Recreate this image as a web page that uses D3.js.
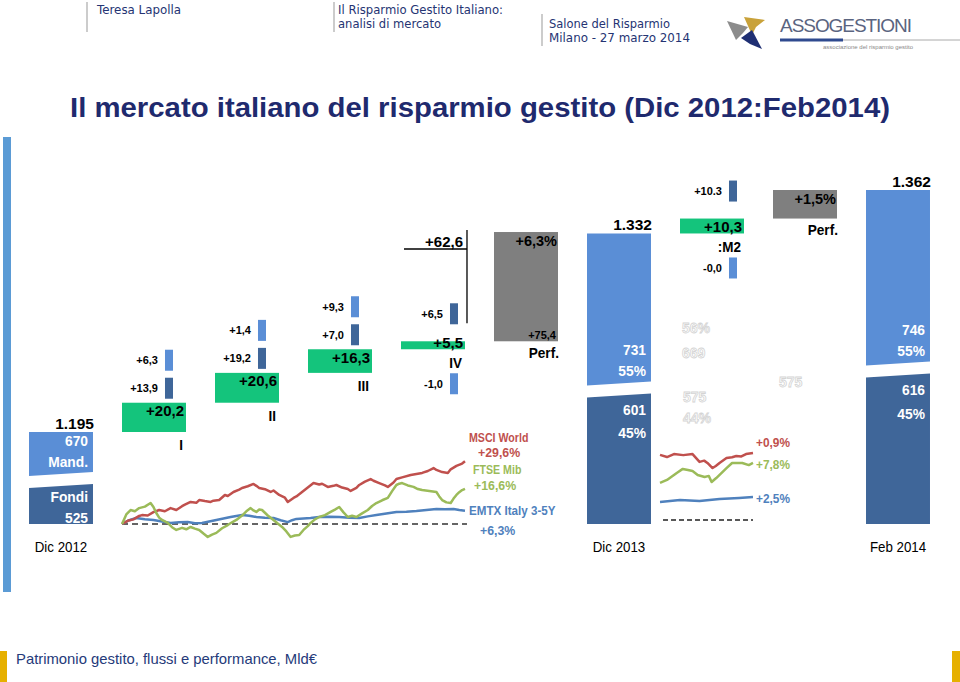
<!DOCTYPE html>
<html><head><meta charset="utf-8">
<script src="https://cdn.jsdelivr.net/npm/d3@7"></script>
<style>body{margin:0;background:#fff} svg{display:block}</style>
</head><body>
<svg id="c" width="960" height="682"></svg>
<script>
// ---------- DATA ----------
const categories = ["Dic 2012","I","II","III","IV","Perf.","Dic 2013",":M2","Perf. 2014","Feb 2014"];
const totalCats = ["Dic 2012","Dic 2013","Feb 2014"];
const totalValues = [1195,1332,1362];
const totalLabels = ["1.195","1.332","1.362"];
const mandValues = [670,731,746];
const fondiValues = [525,601,616];
const mandText = [["670","Mand."],["731","55%"],["746","55%"]];
const fondiText = [["Fondi","525"],["601","45%"],["616","45%"]];
const flowCats = ["I","II","III","IV",":M2"];
const flowValues = [20.2,20.6,16.3,5.5,10.3];
const flowLabels = ["+20,2","+20,6","+16,3","+5,5","+10,3"];
const fondiFlows = [13.9,19.2,7.0,6.5,10.3];
const fondiFlowLabels = ["+13,9","+19,2","+7,0","+6,5","+10.3"];
const mandFlows = [6.3,1.4,9.3,-1.0,-0.0];
const mandFlowLabels = ["+6,3","+1,4","+9,3","-1,0","-0,0"];
const perfCats = ["Perf.","Perf. 2014"];
const perfValues = [75.4,19.7];
const perfPctLabels = ["+6,3%","+1,5%"];
const perfValLabels = ["+75,4",""];
const flows2013Label = "+62,6";
const xLabels = ["Dic 2012","Dic 2013","Feb 2014"];

// index performance (month, cumulative %)
const msci2013 = [[0,0],[0.2,1.5],[0.4,2.2],[0.6,3.8],[0.7,4.2],[0.9,4.0],[1.1,5.6],[1.3,6.6],[1.5,6.0],[1.7,7.5],[1.9,6.6],[2.1,8.4],[2.2,9.1],[2.4,10.4],[2.6,10.0],[2.7,11.3],[2.9,10.8],[3.1,10.4],[3.2,11.0],[3.4,11.3],[3.6,13.7],[3.7,13.2],[3.9,15.1],[4.1,16.2],[4.2,17.0],[4.4,17.8],[4.6,18.9],[4.7,18.0],[4.8,17.0],[5.0,16.4],[5.2,15.1],[5.3,15.8],[5.5,13.7],[5.7,12.4],[5.8,10.4],[6.0,12.3],[6.1,13.0],[6.3,15.1],[6.5,17.2],[6.7,19.3],[6.9,18.6],[7.0,19.0],[7.2,17.5],[7.4,18.0],[7.5,18.4],[7.7,17.2],[7.9,16.5],[8.0,15.6],[8.2,17.0],[8.3,18.4],[8.5,20.0],[8.7,21.2],[8.8,20.4],[9.0,19.3],[9.2,18.2],[9.3,17.5],[9.5,19.6],[9.6,21.2],[9.8,22.0],[10.1,23.1],[10.3,23.6],[10.5,24.1],[10.7,25.0],[10.9,26.4],[11.0,25.5],[11.2,24.5],[11.4,24.1],[11.5,25.8],[11.7,27.4],[11.9,28.5],[12.0,29.6]];
const ftse2013 = [[0,0],[0.15,4.5],[0.3,6.6],[0.45,6.0],[0.6,7.5],[0.8,8.2],[1.0,9.9],[1.1,8.0],[1.2,5.2],[1.3,3.0],[1.4,1.9],[1.6,0.5],[1.75,-1.5],[1.9,-2.8],[2.1,-1.8],[2.25,-2.5],[2.4,-1.4],[2.55,-2.2],[2.7,-2.8],[2.85,-4.5],[3.0,-6.1],[3.15,-5.0],[3.3,-4.2],[3.5,-2.0],[3.7,-0.5],[3.85,0.8],[4.0,1.9],[4.2,4.0],[4.35,6.0],[4.5,7.5],[4.6,6.4],[4.7,5.7],[4.8,6.8],[4.9,6.6],[5.1,4.0],[5.3,1.9],[5.45,0.2],[5.6,-1.4],[5.75,-3.5],[5.9,-6.1],[6.05,-5.4],[6.2,-5.2],[6.35,-2.8],[6.5,-1.0],[6.6,0.5],[6.75,2.2],[6.9,3.3],[7.1,4.2],[7.3,5.7],[7.45,6.8],[7.6,8.0],[7.75,5.5],[7.9,3.3],[8.05,3.9],[8.2,3.3],[8.4,5.0],[8.6,6.6],[8.75,8.5],[8.9,9.9],[9.1,11.2],[9.3,12.3],[9.45,15.5],[9.6,18.4],[9.7,19.0],[9.8,19.3],[10.0,18.2],[10.2,17.5],[10.35,16.5],[10.5,16.0],[10.75,15.6],[11.0,15.1],[11.1,13.0],[11.2,11.3],[11.35,10.2],[11.5,9.9],[11.6,12.0],[11.7,13.7],[11.8,15.0],[11.9,16.0],[12.0,16.6]];
const emtx2013 = [[0,0],[0.25,1.8],[0.5,2.8],[0.8,2.2],[1.1,1.9],[1.4,1.2],[1.7,0.5],[2.0,0.8],[2.3,0.9],[2.55,0.4],[2.8,0.5],[3.05,1.2],[3.3,1.9],[3.55,2.6],[3.8,3.3],[4.0,3.8],[4.2,4.2],[4.45,3.9],[4.7,3.3],[5.0,3.0],[5.3,2.8],[5.55,1.8],[5.8,0.9],[5.95,1.8],[6.1,2.4],[6.35,2.6],[6.6,2.8],[6.9,3.3],[7.25,3.4],[7.6,3.3],[7.95,3.0],[8.3,2.8],[8.6,3.6],[8.9,4.2],[9.25,5.0],[9.6,5.7],[9.95,5.8],[10.3,6.1],[10.65,6.6],[11.0,7.1],[11.3,7.0],[11.6,7.1],[11.8,6.6],[12.0,6.3]];
const msci2014 = [[0,30.7],[0.15,29.7],[0.3,31.1],[0.5,30.6],[0.7,31.1],[0.85,27.4],[0.95,28.0],[1.02,26.9],[1.13,24.5],[1.2,25.5],[1.28,26.9],[1.43,29.2],[1.55,29.6],[1.64,30.2],[1.75,30.0],[1.85,31.1],[2.0,31.6]];
const ftse2014 = [[0,17.5],[0.15,18.9],[0.36,22.2],[0.49,24.1],[0.6,23.6],[0.7,23.1],[0.81,21.2],[0.96,20.3],[1.05,20.8],[1.11,17.9],[1.21,19.8],[1.43,24.5],[1.55,26.9],[1.77,26.9],[1.91,25.9],[2.0,26.9]];
const emtx2014 = [[0,8.5],[0.43,9.4],[0.85,9.0],[1.28,9.9],[1.7,10.4],[2.0,10.8]];
const seriesNames = ["MSCI World","FTSE Mib","EMTX Italy 3-5Y"];
const seriesPerf2013 = ["+29,6%","+16,6%","+6,3%"];
const seriesPerf2014 = ["+0,9%","+7,8%","+2,5%"];
const ghostLabels = ["56%","669","575","44%","575"];

// ---------- STYLE ----------
const F = "'Liberation Sans',Arial,sans-serif";
const C = {mand:"#5a8ed6", fondi:"#3f6699", green:"#14c47c", gray:"#7f7f7f",
  red:"#c0504d", lgreen:"#9bbb59", blue:"#4f81bd", navy:"#1f2a6e"};

const svg = d3.select("#c");

// ---------- HEADER ----------
const hdr = svg.append("g").attr("font-family","'DejaVu Sans',Verdana,sans-serif").attr("fill","#253473");
[[87,2,32],[334,2,32],[542,14,46]].forEach(([x,a,b]) => hdr.append("line").attr("x1",x).attr("x2",x).attr("y1",a).attr("y2",b).attr("stroke","#bbb").attr("stroke-width",1.5));
const ht = (t,x,y,w) => hdr.append("text").attr("x",x).attr("y",y).attr("font-size",12.5).attr("textLength",w).attr("lengthAdjust","spacingAndGlyphs").text(t);
ht("Teresa Lapolla",97,14,84);
ht("Il Risparmio Gestito Italiano:",338,14,165);
ht("analisi di mercato",338,28,103);
ht("Salone del Risparmio",549,28,121);
ht("Milano - 27 marzo 2014",549,42,141);
// logo
const lg = svg.append("g");
lg.append("path").attr("d","M727,21 L748,27 L743,33 L736,40 Z").attr("fill","#8c8c8c");
lg.append("path").attr("d","M744,17 L765,20 L756,27 L752,35 Z").attr("fill","#c9a23a");
lg.append("path").attr("d","M741,38 L752,30 L762,49 L750,44 Z").attr("fill","#1f2f73");
lg.append("text").attr("x",780).attr("y",32).attr("font-family","'Liberation Sans',Arial,sans-serif").attr("font-size",19).attr("fill","#5a6480").attr("textLength",132).attr("lengthAdjust","spacing").text("ASSOGESTIONI");
lg.append("line").attr("x1",780).attr("x2",843).attr("y1",40).attr("y2",40).attr("stroke","#2f4a8f").attr("stroke-width",3);
lg.append("line").attr("x1",843).attr("x2",960).attr("y1",40).attr("y2",40).attr("stroke","#aaa").attr("stroke-width",1);
lg.append("text").attr("x",823).attr("y",49).attr("font-family","'Liberation Sans',Arial,sans-serif").attr("font-size",6).attr("fill","#888").text("associazione del risparmio gestito");

// title
svg.append("text").attr("x",70).attr("y",117).attr("font-family","'Liberation Sans',Arial,sans-serif")
  .attr("font-weight","bold").attr("font-size",28).attr("fill",C.navy)
  .attr("textLength",820).attr("lengthAdjust","spacingAndGlyphs")
  .text("Il mercato italiano del risparmio gestito (Dic 2012:Feb2014)");

// side & footer decorations
svg.append("rect").attr("x",3).attr("y",137).attr("width",8).attr("height",455).attr("fill","#5b9bd5");
svg.append("rect").attr("x",0).attr("y",651).attr("width",7).attr("height",31).attr("fill","#e6b000");
svg.append("rect").attr("x",952).attr("y",651).attr("width",8).attr("height",31).attr("fill","#e6b000");
svg.append("text").attr("x",16).attr("y",664).attr("font-family","'Liberation Sans',Arial,sans-serif")
  .attr("font-size",15).attr("fill","#253a7a").attr("textLength",301).attr("lengthAdjust","spacingAndGlyphs")
  .text("Patrimonio gestito, flussi e performance, Mld€");

// ---------- SCALES ----------
const x = d3.scaleBand().domain(categories).range([14.5,944.5]).paddingInner(0.312).paddingOuter(0.156);
const y = d3.scaleLinear().domain([1195,1362]).range([432,190]);
const base = 524;
const bw = x.bandwidth();
const g = svg.append("g").attr("font-family",F).attr("font-weight","bold");
const txt = (t,xx,yy,size,anchor,fill,sx) => g.append("text")
  .attr("transform",`translate(${xx},${yy}) scale(${sx||1},1)`).attr("font-size",size)
  .attr("text-anchor",anchor||"end").attr("fill",fill||"#000").text(t);

// ---------- WATERFALL ----------
let run = 0;
categories.forEach(cat => {
  const x0 = x(cat), x1 = x0 + bw;
  const ti = totalCats.indexOf(cat), fi = flowCats.indexOf(cat), pi = perfCats.indexOf(cat);
  if (ti >= 0) {
    run = totalValues[ti];
    const top = y(run), h = base - top;
    const share = fondiValues[ti] / (fondiValues[ti] + mandValues[ti]);
    const s = base - share * h - 3.5;
    g.append("path").attr("d",`M${x0},${top}L${x1},${top}L${x1},${s-8}L${x0},${s-4}Z`).attr("fill",C.mand);
    g.append("path").attr("d",`M${x0},${s+8}L${x1},${s+4}L${x1},${base}L${x0},${base}Z`).attr("fill",C.fondi);
    txt(totalLabels[ti], x1+1, top-3, 15.5);
    txt(mandText[ti][0], x1-5, s-34, 15, "end", "#fff", 0.92);
    txt(mandText[ti][1], x1-5, s-13, 15, "end", "#fff", 0.92);
    const ft = s + 6, fh = base - ft;
    const f1 = ft + 14 + 0.04 * fh;
    txt(fondiText[ti][0], x1-5, f1, 15, "end", "#fff", 0.92);
    txt(fondiText[ti][1], x1-5, f1 + 21 + 0.02 * fh, 15, "end", "#fff", 0.92);
  } else if (fi >= 0) {
    const v = flowValues[fi];
    const gt = y(run + v), gb = y(run);
    run += v;
    g.append("rect").attr("x",x0).attr("y",gt).attr("width",bw).attr("height",gb-gt).attr("fill",C.green);
    txt(flowLabels[fi], x1-2, Math.min(gt+13.5, gb-1), 15);
    let dark, light, lab, sx;
    if (mandFlows[fi] > 0) { sx = x1-21; dark=[gt-25,gt-4]; light=[gt-53,gt-32]; lab = gb+18; }
    else { sx = x1-15; dark=[gt-38,gt-17]; light=[gb+24,gb+45]; lab = gb+19; }
    g.append("rect").attr("x",sx).attr("y",dark[0]).attr("width",8).attr("height",dark[1]-dark[0]).attr("fill",C.fondi);
    g.append("rect").attr("x",sx).attr("y",light[0]).attr("width",8).attr("height",light[1]-light[0]).attr("fill",C.mand);
    txt(fondiFlowLabels[fi], sx-7, (dark[0]+dark[1])/2+4, 11);
    txt(mandFlowLabels[fi], sx-7, (light[0]+light[1])/2+4, 11);
    txt(cat, x1-3, lab, 15, "end", "#000", 0.9);
  } else if (pi >= 0) {
    const v = perfValues[pi];
    const gt = y(run + v), gb = y(run);
    run += v;
    g.append("rect").attr("x",x0).attr("y",gt).attr("width",bw).attr("height",gb-gt).attr("fill",C.gray);
    txt(perfPctLabels[pi], x1-1, gt+14, 14.5);
    if (perfValLabels[pi]) txt(perfValLabels[pi], x1-2, gb-2, 11);
    txt("Perf.", x1+1, gb+16.5, 15.5, "end", "#000", 0.88);
  }
});

// +62,6 bracket
{
  const xr = x("IV") + bw + 2, xl = x("IV") + 3;
  const yy = y(1257.6 + 75.4) + 17;
  g.append("line").attr("x1",xl).attr("x2",xr).attr("y1",yy).attr("y2",yy).attr("stroke","#000").attr("stroke-width",1.3);
  g.append("line").attr("x1",xr).attr("x2",xr).attr("y1",yy-19).attr("y2",y(1252.1)-26).attr("stroke","#000").attr("stroke-width",1.3);
  txt(flows2013Label, xr-4, yy-2, 15);
}

// x labels
xLabels.forEach((t,i) => g.append("text").attr("transform",`translate(${x(totalCats[i])+bw/2},552) scale(0.86,1)`)
  .attr("text-anchor","middle").attr("font-size",15.5).attr("font-weight","normal").attr("fill","#000").text(t));

// ghost labels
const ghostPos = [[x(":M2")+2,333],[x(":M2")+2,358],[x(":M2")+3,402],[x(":M2")+3,423],[x("Perf. 2014")+6,387]];
ghostLabels.forEach((t,i) => g.append("text").attr("x",ghostPos[i][0]).attr("y",ghostPos[i][1]).attr("text-anchor","start")
  .attr("font-size",14).attr("fill","#fff").attr("stroke","#d4d4d4").attr("stroke-width",0.8).text(t));

// ---------- INDEX LINES ----------
const x1s = d3.scaleLinear().domain([0,12]).range([x("I"), x("IV")+bw]);
const y1s = d3.scaleLinear().domain([0,10]).range([base, base-21.2]);
const x2s = d3.scaleLinear().domain([0,2]).range([x(":M2")-20, x(":M2")+bw+9]);
const y2s = d3.scaleLinear().domain([0,10]).range([520, 520-21.2]);
const lines = svg.append("g").attr("fill","none").attr("stroke-width",2.5).attr("stroke-linejoin","round");
lines.append("line").attr("x1",x1s(0)).attr("x2",x1s(12)+2).attr("y1",y1s(0)).attr("y2",y1s(0)).attr("stroke","#333").attr("stroke-width",1.3).attr("stroke-dasharray","6,4");
lines.append("line").attr("x1",x2s(0)+3).attr("x2",x2s(2)).attr("y1",y2s(0)).attr("y2",y2s(0)).attr("stroke","#222").attr("stroke-width",1.5).attr("stroke-dasharray","5,3");
const l1 = d3.line().x(d=>x1s(d[0])).y(d=>y1s(d[1]));
const l2 = d3.line().x(d=>x2s(d[0])).y(d=>y2s(d[1]));
[[emtx2013,C.blue],[msci2013,C.red],[ftse2013,C.lgreen]].forEach(([d,c]) => lines.append("path").attr("d",l1(d)).attr("stroke",c));
[[emtx2014,C.blue],[msci2014,C.red],[ftse2014,C.lgreen]].forEach(([d,c]) => lines.append("path").attr("d",l2(d)).attr("stroke",c));

const sc = [C.red, C.lgreen, C.blue];
const nameX = [469,473,469], nameY = [442,474,515], perfX = [478,474,480], perfY = [457,490,535];
const nameS = [0.85,0.85,0.93];
seriesNames.forEach((n,i) => {
  txt(n, nameX[i], nameY[i], 12.5, "start", sc[i], nameS[i]);
  txt(seriesPerf2013[i], perfX[i], perfY[i], 13, "start", sc[i], 0.95);
});
const p2Y = [447,469,503];
seriesPerf2014.forEach((t,i) => txt(t, x2s(2)+3, p2Y[i], 12.5, "start", sc[i], 0.95));
</script>
</body></html>
